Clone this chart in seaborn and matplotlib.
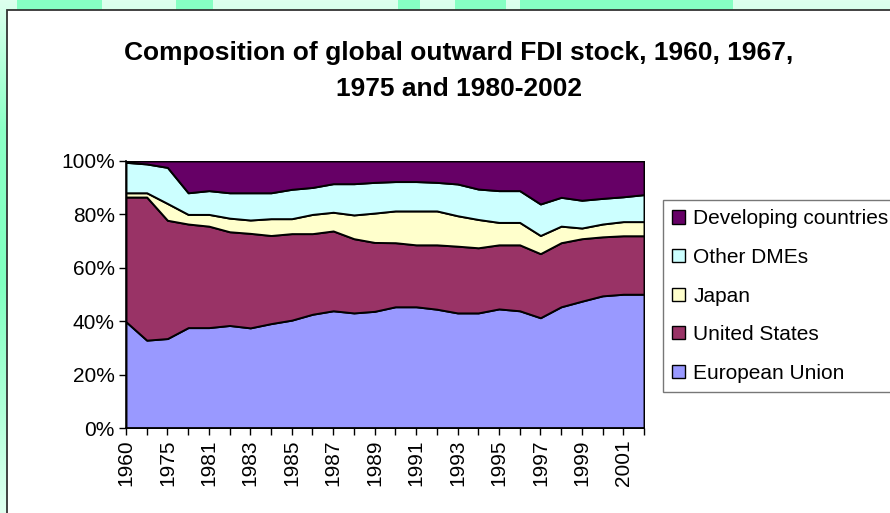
import matplotlib
matplotlib.use("Agg")
import matplotlib.pyplot as plt
import matplotlib.patches as mpatches
import seaborn as sns
import numpy as np
from matplotlib.colors import LinearSegmentedColormap

years = ["1960", "1967", "1975"] + [str(y) for y in range(1980, 2003)]
series_names = ["European Union", "United States", "Japan", "Other DMEs", "Developing countries"]
eu = [39.8, 32.9, 33.5, 37.6, 37.6, 38.4, 37.5, 39.1, 40.4, 42.6, 43.9, 43.1, 43.7,
      45.4, 45.4, 44.5, 43.1, 43.1, 44.6, 43.9, 41.3, 45.4, 47.5, 49.5, 50.1, 50.1]
us = [46.7, 53.6, 44.3, 38.8, 38.0, 35.1, 35.4, 33.0, 32.4, 30.2, 29.9, 27.8, 25.8,
      24.0, 23.2, 24.1, 25.0, 24.4, 24.0, 24.7, 24.0, 24.0, 23.4, 22.1, 21.9, 21.9]
japan = [1.6, 1.6, 6.3, 3.6, 4.4, 5.1, 5.0, 6.3, 5.6, 7.2, 7.0, 8.9, 11.0,
         11.9, 12.7, 12.7, 11.4, 10.6, 8.4, 8.4, 6.8, 6.2, 4.0, 4.8, 5.3, 5.3]
other = [11.4, 10.8, 13.5, 8.1, 8.9, 9.5, 10.2, 9.7, 11.0, 10.1, 10.7, 11.7, 11.5,
         11.0, 11.0, 10.7, 11.9, 11.4, 11.9, 11.9, 11.8, 10.8, 10.4, 9.6, 9.3, 10.1]
developing = [0.5, 1.1, 2.4, 11.9, 11.1, 11.9, 11.9, 11.9, 10.6, 9.9, 8.5, 8.5, 8.0,
              7.7, 7.7, 8.0, 8.6, 10.5, 11.1, 11.1, 16.1, 13.6, 14.7, 14.0, 13.4, 12.6]
colors = ["#9999FF", "#993366", "#FFFFCC", "#CCFFFF", "#660066"]
title = "Composition of global outward FDI stock, 1960, 1967,\n1975 and 1980-2002"

sns.set_style("white")
plt.rcParams["font.family"] = ["Liberation Sans", "DejaVu Sans"]
plt.rcParams["text.color"] = "black"
plt.rcParams["xtick.color"] = "black"
plt.rcParams["ytick.color"] = "black"

fig = plt.figure(figsize=(8.9, 5.13), dpi=100)
fig.patch.set_facecolor("#D6FFEA")

# decorative slide background (vertical mint gradient)
bg = fig.add_axes([0, 0, 1, 1], zorder=-10)
bg.set_axis_off()
grad_cmap = LinearSegmentedColormap.from_list(
    "mint", [(0.0, "#DDFFEE"), (0.25, "#8CFFC6"), (0.55, "#80FFC0"), (0.8, "#B0FFD8"), (1.0, "#E0FFF0")])
bg.imshow(np.linspace(0, 1, 256).reshape(-1, 1), aspect="auto", cmap=grad_cmap,
          extent=[0, 1, 0, 1], origin="upper")
for (x0, x1) in [(17, 102), (176, 213), (398, 420), (455, 506), (520, 733)]:
    bg.add_patch(mpatches.Rectangle((x0 / 890, 1 - 10 / 513), (x1 - x0) / 890, 10 / 513,
                                    facecolor="#86FFC3", edgecolor="none"))
bg.set_xlim(0, 1)
bg.set_ylim(0, 1)

# white chart box
box = mpatches.Rectangle((7 / 890, -0.02), 1.0, (513 - 10) / 513 + 0.02,
                         transform=fig.transFigure, facecolor="white",
                         edgecolor="#333333", linewidth=1.3, zorder=-5)
fig.patches.append(box)

ax = fig.add_axes([126 / 890, (513 - 428) / 513, (644 - 126) / 890, (428 - 161) / 513])
ax.set_zorder(2)
ax.set_facecolor("none")
x = np.arange(len(years))
data = np.array([eu, us, japan, other, developing])
cum = np.vstack([np.zeros(len(years)), np.cumsum(data, axis=0)])
for i in range(len(series_names)):
    ax.fill_between(x, cum[i], cum[i + 1], facecolor=colors[i], edgecolor="black",
                    linewidth=1.4, label=series_names[i], zorder=2)

ax.set_xlim(0, len(years) - 1)
ax.set_ylim(0, 100)
ax.set_yticks(np.arange(0, 101, 20))
ax.set_yticklabels([f"{v}%" for v in range(0, 101, 20)], fontsize=15)
ax.set_xticks(x)
ax.set_xticklabels([y if i % 2 == 0 else "" for i, y in enumerate(years)],
                   rotation=90, fontsize=15)
ax.tick_params(axis="both", direction="out", length=5, width=1, color="black",
               labelcolor="black", bottom=True, left=True, pad=3)
for s in ["top", "right"]:
    ax.spines[s].set_visible(False)
for s in ["left", "bottom"]:
    ax.spines[s].set_color("black")
    ax.spines[s].set_linewidth(1.2)

fig.text(459 / 890, (513 - 71) / 513, title, ha="center", va="center",
         fontsize=19, fontweight="bold", linespacing=1.67, color="black")

handles = [mpatches.Patch(facecolor=colors[i], edgecolor="black", linewidth=1,
                          label=series_names[i]) for i in range(len(series_names))][::-1]
leg = fig.legend(handles=handles, loc="upper left", bbox_to_anchor=(663 / 890, (513 - 200) / 513),
                 bbox_transform=fig.transFigure, fontsize=15, frameon=True, fancybox=False,
                 edgecolor="#555555", handlelength=0.6, handleheight=0.6, handletextpad=0.4,
                 labelspacing=0.94, borderpad=0.45, borderaxespad=0)
leg.get_frame().set_linewidth(1)
for t in leg.get_texts():
    t.set_color("black")

fig.savefig("out.png", dpi=100, facecolor=fig.get_facecolor())
